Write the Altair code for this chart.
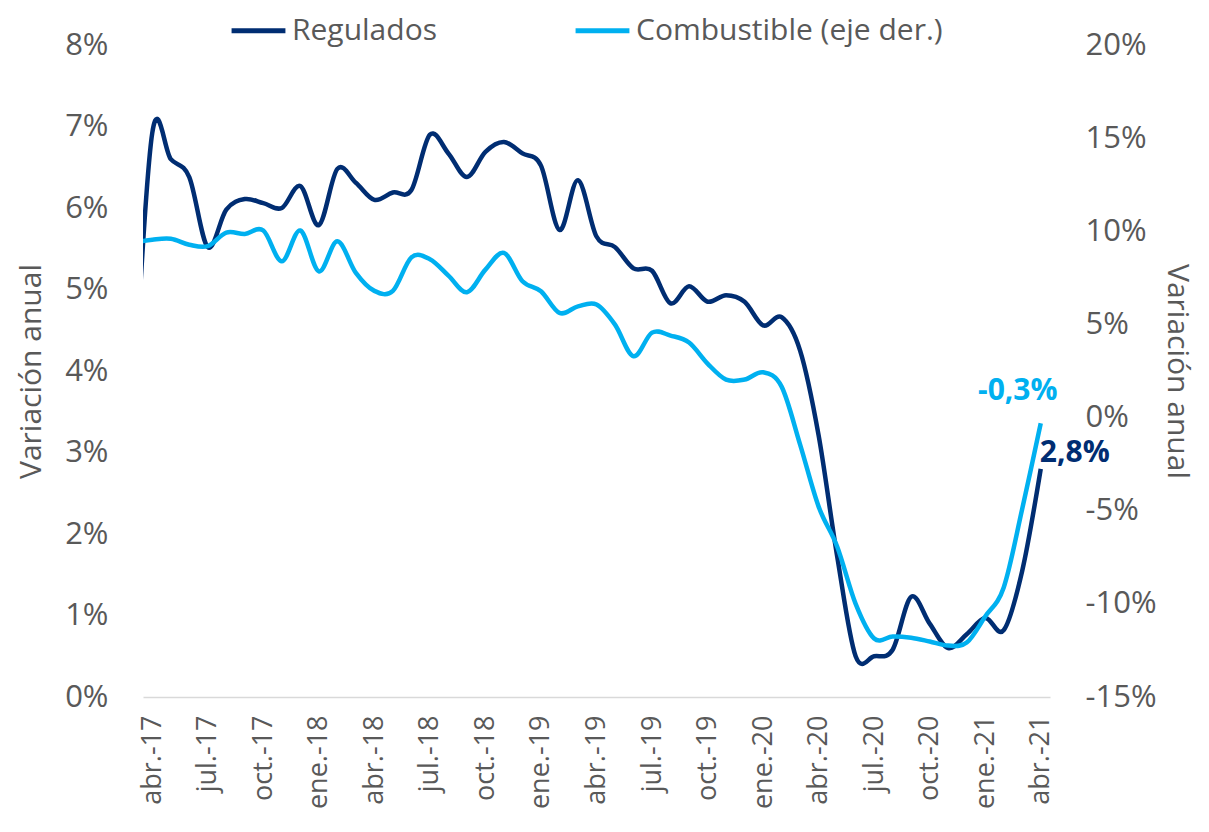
import altair as alt
import pandas as pd

# ---------------- data ----------------
month_names = [
    "mar.-17", "abr.-17", "may.-17", "jun.-17", "jul.-17", "ago.-17", "sep.-17", "oct.-17", "nov.-17", "dic.-17",
    "ene.-18", "feb.-18", "mar.-18", "abr.-18", "may.-18", "jun.-18", "jul.-18", "ago.-18", "sep.-18", "oct.-18",
    "nov.-18", "dic.-18", "ene.-19", "feb.-19", "mar.-19", "abr.-19", "may.-19", "jun.-19", "jul.-19", "ago.-19",
    "sep.-19", "oct.-19", "nov.-19", "dic.-19", "ene.-20", "feb.-20", "mar.-20", "abr.-20", "may.-20", "jun.-20",
    "jul.-20", "ago.-20", "sep.-20", "oct.-20", "nov.-20", "dic.-20", "ene.-21", "feb.-21", "mar.-21", "abr.-21",
]
t_index = list(range(-1, 49))

regulados = [
    3.6, 6.92, 6.6, 6.38, 5.52, 5.98, 6.11, 6.06, 6.0, 6.27,
    5.79, 6.48, 6.31, 6.10, 6.19, 6.22, 6.9, 6.67, 6.38, 6.69,
    6.81, 6.67, 6.52, 5.73, 6.34, 5.65, 5.52, 5.26, 5.23, 4.83,
    5.04, 4.85, 4.93, 4.85, 4.56, 4.66, 4.25, 3.21, 1.73, 0.5,
    0.5, 0.58, 1.23, 0.9, 0.6, 0.77, 0.97, 0.82, 1.55, 2.8,
]
combustible = [
    9.4, 9.55, 9.6, 9.28, 9.2, 9.93, 9.86, 10.04, 8.39, 10.04,
    7.85, 9.46, 7.77, 6.8, 6.8, 8.6, 8.5, 7.62, 6.73, 7.94,
    8.84, 7.32, 6.78, 5.62, 5.97, 6.07, 4.99, 3.29, 4.56, 4.4,
    4.03, 2.9, 2.04, 2.04, 2.43, 1.66, -1.45, -4.78, -6.92, -10.0,
    -11.86, -11.75, -11.82, -12.02, -12.24, -12.08, -10.68, -9.12, -4.9, -0.3,
]

tick_values = list(range(0, 49, 3))
tick_labels = ["abr.-17", "jul.-17", "oct.-17", "ene.-18", "abr.-18", "jul.-18", "oct.-18", "ene.-19",
               "abr.-19", "jul.-19", "oct.-19", "ene.-20", "abr.-20", "jul.-20", "oct.-20", "ene.-21", "abr.-21"]

series_names = ["Regulados", "Combustible (eje der.)"]
colors = ["#002D72", "#00B0F0"]
end_labels = ["2,8%", "-0,3%"]

left_ticks = list(range(0, 9))
right_ticks = list(range(-15, 21, 5))

# ---------------- frames ----------------
df_reg = pd.DataFrame({"t": t_index, "mes": month_names, "valor": regulados, "serie": series_names[0]})
df_reg["etiqueta"] = ""
df_reg.loc[df_reg["t"] == 48, "etiqueta"] = end_labels[0]

df_com = pd.DataFrame({"t": t_index, "mes": month_names, "valor": combustible, "serie": series_names[1]})
df_com["etiqueta"] = ""
df_com.loc[df_com["t"] == 48, "etiqueta"] = end_labels[1]

GRAY = "#595959"
FONT = "Open Sans"

label_expr = "[" + ",".join("'" + s + "'" for s in tick_labels) + "][round(datum.value/3)]"

x_enc = alt.X(
    "t:Q",
    scale=alt.Scale(domain=[-0.5, 48.5], nice=False, zero=False),
    axis=alt.Axis(
        values=tick_values, labelExpr=label_expr, labelAngle=270, ticks=False, grid=False,
        domainColor="#D9D9D9", domainWidth=1.5, labelFontSize=27, labelColor=GRAY,
        labelPadding=18, title=None, labelFont=FONT, labelOverlap=False,
    ),
)

color_enc = alt.Color(
    "serie:N",
    scale=alt.Scale(domain=series_names, range=colors),
    legend=alt.Legend(
        orient="none", legendX=86, legendY=-44, direction="horizontal", title=None,
        symbolType="stroke", symbolStrokeWidth=5, symbolSize=2900, labelFontSize=30,
        labelColor=GRAY, labelFont=FONT, columnPadding=128, labelOffset=4, labelLimit=0,
    ),
)

left_axis = alt.Axis(
    values=left_ticks, labelExpr="datum.value + '%'", orient="left", grid=False, ticks=False,
    domain=False, labelFontSize=31, labelColor=GRAY, labelPadding=35, labelFont=FONT,
    title="Variación anual", titleFontSize=30, titleColor=GRAY, titleFontWeight="normal",
    titleFont=FONT, titlePadding=18,
)
right_axis = alt.Axis(
    values=right_ticks, labelExpr="datum.value + '%'", orient="right", grid=False, ticks=False,
    domain=False, labelFontSize=31, labelColor=GRAY, labelPadding=35, labelFont=FONT,
    title="Variación anual", titleFontSize=30, titleColor=GRAY, titleFontWeight="normal",
    titleFont=FONT, titlePadding=5,
)

y_left = alt.Y("valor:Q", scale=alt.Scale(domain=[0, 8], nice=False, zero=False), axis=left_axis)
y_right = alt.Y("valor:Q", scale=alt.Scale(domain=[-15, 20], nice=False, zero=False), axis=right_axis)

line_reg = alt.Chart(df_reg).mark_line(clip=True, interpolate="cardinal", strokeWidth=4.5).encode(
    x=x_enc, y=y_left, color=color_enc
)
text_reg = alt.Chart(df_reg).transform_filter("datum.t == 48").mark_text(
    font=FONT, fontSize=30, fontWeight="bold", dx=34, dy=-16, color=colors[0]
).encode(x=x_enc, y=y_left, text="etiqueta:N")

line_com = alt.Chart(df_com).mark_line(clip=True, interpolate="cardinal", strokeWidth=4.5).encode(
    x=x_enc, y=y_right, color=color_enc
)
text_com = alt.Chart(df_com).transform_filter("datum.t == 48").mark_text(
    font=FONT, fontSize=30, fontWeight="bold", dx=-23, dy=-32, color=colors[1]
).encode(x=x_enc, y=y_right, text="etiqueta:N")

left_layer = alt.layer(line_reg, text_reg)
right_layer = alt.layer(line_com, text_com)

chart = (
    alt.layer(left_layer, right_layer)
    .resolve_scale(y="independent")
    .properties(
        width=907, height=652, autosize="none",
        padding={"left": 135, "top": 37, "right": 151, "bottom": 120},
    )
    .configure(font=FONT)
    .configure_view(stroke=None)
)

chart.save("out.html", embed_options={"renderer": "svg", "actions": False})
